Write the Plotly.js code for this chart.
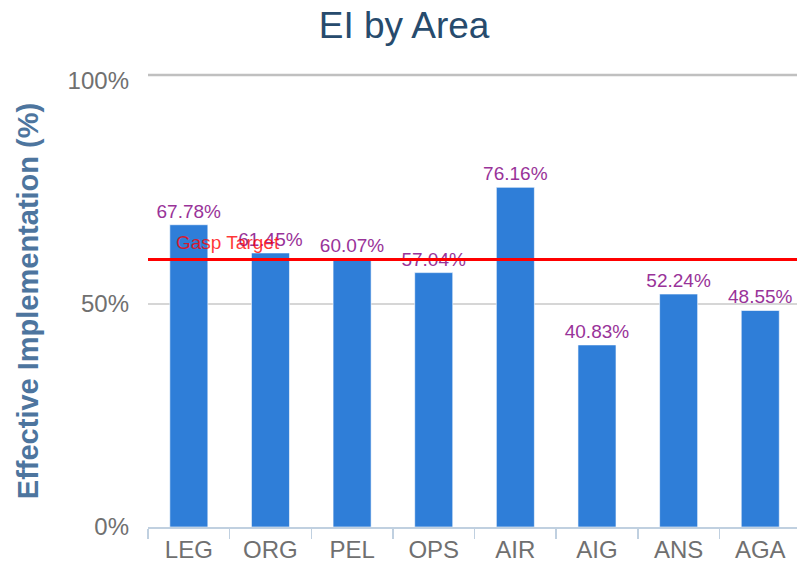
<!DOCTYPE html>
<html>
<head>
<meta charset="utf-8">
<script src="https://cdn.plot.ly/plotly-3.0.1.min.js"></script>
<style>
  html, body { margin: 0; padding: 0; background: #fff; }
  #chart { width: 797px; height: 568px; }
</style>
</head>
<body>
<div id="chart"></div>
<script>
var areas = ['LEG', 'ORG', 'PEL', 'OPS', 'AIR', 'AIG', 'ANS', 'AGA'];
var eiValues = [67.78, 61.45, 60.07, 57.04, 76.16, 40.83, 52.24, 48.55];
var targetValue = 60;
var targetLabel = 'Gasp Target';
var yTickVals = [0, 50, 100];
var yTickText = ['0%', '50%', '100%'];

var font = 'Liberation Sans, Arial, sans-serif';

var bars = {
  x: areas,
  y: eiValues,
  type: 'bar',
  marker: {color: '#2f7ed8', line: {color: 'rgba(255,255,255,0.6)', width: 1}},
  text: eiValues.map(function (v) { return v.toFixed(2) + '%'; }),
  textposition: 'outside',
  constraintext: 'none',
  textfont: {family: font, size: 19, color: '#993399'},
  cliponaxis: false,
  hoverinfo: 'x+y'
};

var layout = {
  width: 797,
  height: 568,
  margin: {l: 148, r: 0, t: 75, b: 41},
  paper_bgcolor: '#fff',
  plot_bgcolor: '#fff',
  font: {family: font},
  showlegend: false,
  bargap: 0.534,
  title: {
    text: 'EI by Area',
    font: {family: font, size: 37, color: '#274b6d'},
    x: 0.507, xanchor: 'center',
    y: 0.956, yanchor: 'middle', yref: 'container'
  },
  xaxis: {
    type: 'category',
    range: [-0.5, 7.45],
    showgrid: false,
    showline: true,
    linecolor: '#c0d0e0',
    linewidth: 2,
    ticks: 'outside',
    tickson: 'boundaries',
    ticklen: 10,
    tickwidth: 1.5,
    tickcolor: '#c0d0e0',
    tickfont: {family: font, size: 24, color: '#707070'}
  },
  yaxis: {
    range: [0, 101.35],
    tickvals: yTickVals,
    ticktext: yTickText,
    showgrid: false,
    zeroline: false,
    ticks: '',
    ticklabelstandoff: 18,
    tickfont: {family: font, size: 24, color: '#707070'},
    title: {
      text: '<b>Effective Implementation (%)</b>',
      font: {family: font, size: 29, color: '#4d759e'},
      standoff: 20
    }
  },
  shapes: [
    {type: 'line', xref: 'paper', x0: 0, x1: 1, yref: 'y', y0: 50, y1: 50,
     layer: 'below', line: {color: '#c8c8c8', width: 1.5}},
    {type: 'line', xref: 'paper', x0: 0, x1: 1, yref: 'paper', y0: 1, y1: 1,
     layer: 'below', line: {color: '#c0c0c0', width: 2.5}},
    {type: 'line', xref: 'paper', x0: 0, x1: 1, yref: 'y', y0: targetValue, y1: targetValue,
     layer: 'above', line: {color: '#ff0000', width: 3}}
  ],
  annotations: [
    {text: targetLabel, xref: 'paper', x: 0.04, xanchor: 'left',
     yref: 'y', y: targetValue, yanchor: 'middle', yshift: 17, showarrow: false,
     font: {family: font, size: 19, color: 'rgba(255,0,0,0.8)'}}
  ]
};

Plotly.newPlot('chart', [bars], layout, {displayModeBar: false, staticPlot: true});
</script>
</body>
</html>
